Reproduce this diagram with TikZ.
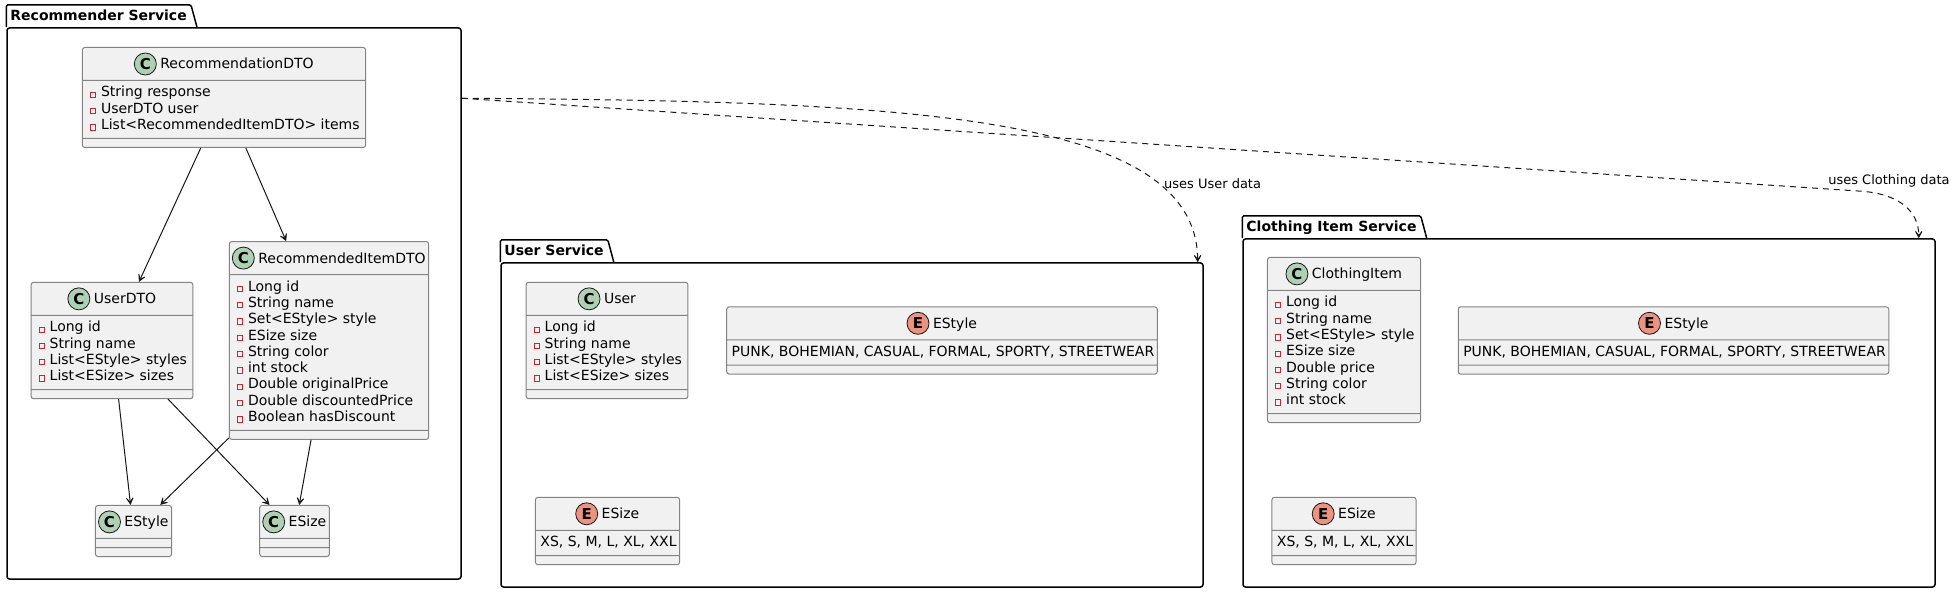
\documentclass[tikz,border=0pt]{standalone}
\usepackage{fontspec}
\setmainfont{DejaVu Sans}
\usetikzlibrary{shapes.multipart,arrows.meta}

\definecolor{boxfill}{HTML}{F1F1F1}
\definecolor{boxline}{HTML}{838383}
\definecolor{linec}{HTML}{181818}
\definecolor{iconC}{HTML}{ADD1B2}
\definecolor{iconE}{HTML}{EB937F}
\definecolor{privred}{HTML}{C82930}

% field lines, value lines, header, empty compartment
\newcommand{\attr}[1]{\rule[-4.3pt]{0pt}{16.3pt}\hspace*{4.5pt}\textcolor{privred}{\fboxsep=0pt\fboxrule=0.9pt\fbox{\rule{0pt}{4.4pt}\rule{4.4pt}{0pt}}}\hspace*{5pt}#1\hspace*{3pt}}
\newcommand{\fields}[1]{\vbox{\let\\\cr\halign{##\hfil\cr#1\crcr}}}
\newcommand{\vals}[1]{\rule[-4.3pt]{0pt}{16.3pt}\hspace*{2pt}#1\hspace*{3pt}}
\newcommand{\head}[1]{\rule[-7pt]{0pt}{24pt}\hspace*{26pt}#1}
\newcommand{\nil}{\phantom{\rule{0.1pt}{0.1pt}}}

\tikzset{
  pkgbody/.style={draw, line width=1.5pt, rounded corners=2.5pt, inner sep=0pt},
  pkgtab/.style={font=\fontsize{14pt}{16pt}\selectfont\bfseries, inner xsep=4pt, inner ysep=0pt,
    minimum height=22pt, text depth=1pt, anchor=south west},
  cls/.style={rectangle split, rectangle split parts=3, draw=boxline, fill=boxfill, line width=1pt,
    rounded corners=2.5pt, inner xsep=3pt, inner ysep=4pt,
    rectangle split part align={center,left,left},
    rectangle split empty part height=0pt, rectangle split empty part depth=0pt},
  icon/.style={circle, draw=linec, line width=0.8pt, inner sep=0pt, minimum size=22pt,
    font=\fontsize{15pt}{15pt}\selectfont\bfseries},
  assoc/.style={draw=linec, line width=1pt, -{Stealth[length=11pt,width=12pt,inset=7.5pt]}},
  dep/.style={assoc, dash pattern=on 6pt off 5pt},
  lbl/.style={font=\fontsize{13pt}{15pt}\selectfont, inner sep=1pt}
}

\begin{document}
\begin{tikzpicture}[x=1pt, y=-1pt, font=\fontsize{14pt}{16.3pt}\selectfont]
\useasboundingbox (0,0) rectangle (1954,593);

% packages
\node[pkgbody, minimum width=454pt, minimum height=551pt] (recsvc) at (234,303.5) {};
\node[pkgbody, minimum width=702pt, minimum height=324pt] (usersvc) at (852,425) {};
\node[pkgbody, minimum width=692pt, minimum height=348pt] (clothsvc) at (1589,413) {};
\node[pkgtab] (recsvc-tab) at (recsvc.north west) {Recommender Service};
\node[pkgtab] (usersvc-tab) at (usersvc.north west) {User Service};
\node[pkgtab] (clothsvc-tab) at (clothsvc.north west) {Clothing Item Service};
\foreach \p in {recsvc,usersvc,clothsvc}
  \draw[line width=1.5pt, rounded corners=1.5pt] (\p-tab.south west) |- (\p-tab.north east) -- ([xshift=6pt]\p-tab.south east);

% Recommender Service
\node[cls] (recdto) at (224,97.5) {\head{RecommendationDTO}\nodepart{two}\fields{\attr{String response}\\\attr{UserDTO user}\\\attr{List<RecommendedItemDTO> items}}\nodepart{three}\nil};
\node[cls] (userdto) at (112,340.5) {\head{UserDTO}\nodepart{two}\fields{\attr{Long id}\\\attr{String name}\\\attr{List<EStyle> styles}\\\attr{List<ESize> sizes}}\nodepart{three}\nil};
\node[cls] (itemdto) at (329,340.5) {\head{RecommendedItemDTO}\nodepart{two}\fields{\attr{Long id}\\\attr{String name}\\\attr{Set<EStyle> style}\\\attr{ESize size}\\\attr{String color}\\\attr{int stock}\\\attr{Double originalPrice}\\\attr{Double discountedPrice}\\\attr{Boolean hasDiscount}}\nodepart{three}\nil};
\node[cls] (recstyle) at (133.5,531) {\head{EStyle}\nodepart{two}\nil\nodepart{three}\nil};
\node[cls] (recsize) at (294.5,531) {\head{ESize}\nodepart{two}\nil\nodepart{three}\nil};

% User Service
\node[cls] (user) at (607,340.5) {\head{User}\nodepart{two}\fields{\attr{Long id}\\\attr{String name}\\\attr{List<EStyle> styles}\\\attr{List<ESize> sizes}}\nodepart{three}\nil};
\node[cls] (ustyle) at (942,340.5) {\head{EStyle}\nodepart{two}\vals{PUNK, BOHEMIAN, CASUAL, FORMAL, SPORTY, STREETWEAR}\nodepart{three}\nil};
\node[cls] (usize) at (607.5,531) {\head{ESize}\nodepart{two}\vals{XS, S, M, L, XL, XXL}\nodepart{three}\nil};

% Clothing Item Service
\node[cls] (clothing) at (1344,340) {\head{ClothingItem}\nodepart{two}\fields{\attr{Long id}\\\attr{String name}\\\attr{Set<EStyle> style}\\\attr{ESize size}\\\attr{Double price}\\\attr{String color}\\\attr{int stock}}\nodepart{three}\nil};
\node[cls] (cstyle) at (1673.5,340.5) {\head{EStyle}\nodepart{two}\vals{PUNK, BOHEMIAN, CASUAL, FORMAL, SPORTY, STREETWEAR}\nodepart{three}\nil};
\node[cls] (csize) at (1344,531) {\head{ESize}\nodepart{two}\vals{XS, S, M, L, XL, XXL}\nodepart{three}\nil};

\foreach \n/\k in {recdto/C,userdto/C,itemdto/C,recstyle/C,recsize/C,user/C,clothing/C,ustyle/E,usize/E,cstyle/E,csize/E}
  \node[icon, fill=icon\k] (\n-icon) at ([xshift=11pt,yshift=5pt]\n.text) {\k};

\draw[assoc] (recdto) -- (userdto);
\draw[assoc] (recdto) -- (itemdto);
\draw[assoc] (userdto) -- (recstyle);
\draw[assoc] (userdto) -- (recsize);
\draw[assoc] (itemdto) -- (recstyle);
\draw[assoc] (itemdto) -- (recsize);

\draw[dep] ([yshift=-71pt]recsvc.north east) .. controls +(439,3) and +(-2,-150) .. ([xshift=-6pt]usersvc.north east)
  node[lbl, pos=0.8, anchor=west, yshift=4pt] {uses User data};
\draw[dep] ([yshift=-71pt]recsvc.north east) -- ++(1400,93) node[lbl, pos=0.975, anchor=south west] {uses Clothing data}
  .. controls +(40,3) and +(0,-25) .. ([xshift=-17pt]clothsvc.north east);
\end{tikzpicture}
\end{document}
